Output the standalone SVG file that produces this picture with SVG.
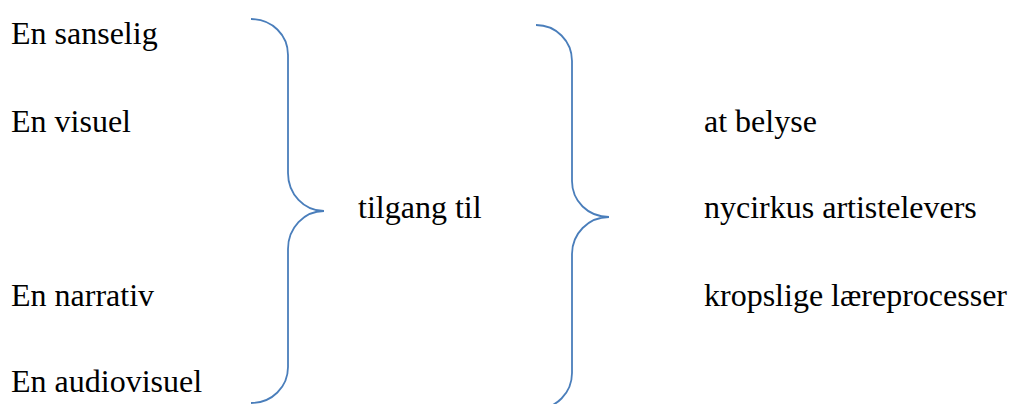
<svg xmlns="http://www.w3.org/2000/svg" width="1012" height="404" viewBox="0 0 1012 404">
<style>
.brace{fill:none;stroke:#4A7EBB;stroke-width:1.8}
</style>
<rect width="1012" height="404" fill="#fff"/>
<g id="connectors">
<path id="brace1" class="brace" d="M251,19 C272,19 288,35 288,55 L288,173 C288,194 304,211 324,211 C304,211 288,228 288,249 L288,367 C288,387 272,403 251,403"/>
<path id="brace2" class="brace" d="M536,25 C556,25 572,41 572,61 L572,181 C572,201 588,217 609,217 C588,217 572,234 572,254 L572,373 C572,393 556,409 536,409"/>
</g>
<g font-family="'Liberation Serif', 'Times New Roman', Times, 'DejaVu Serif', serif" font-size="32" fill="#000">
<g id="n-sanselig"><text x="11" y="44">En sanselig</text></g>
<g id="n-visuel"><text x="11" y="132">En visuel</text></g>
<g id="n-narrativ"><text x="11" y="306">En narrativ</text></g>
<g id="n-audiovisuel"><text x="11" y="392">En audiovisuel</text></g>
<g id="n-tilgang"><text x="358" y="218">tilgang til</text></g>
<g id="n-belyse"><text x="704" y="132">at belyse</text></g>
<g id="n-nycirkus"><text x="704" y="218">nycirkus artistelevers</text></g>
<g id="n-kropslige"><text x="704" y="306">kropslige læreprocesser</text></g>
</g>
</svg>
